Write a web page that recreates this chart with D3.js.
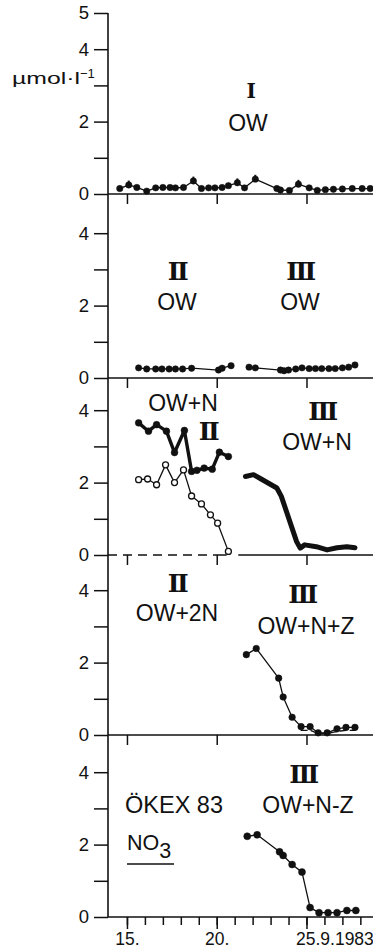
<!DOCTYPE html>
<html>
<head>
<meta charset="utf-8">
<script src="https://cdn.jsdelivr.net/npm/d3@7"></script>
<style>
  body { margin: 0; background: #fff; }
  svg { display: block; }
  text { font-family: "Liberation Sans", Arial, sans-serif; fill: #111; }
  .roman { font-family: "DejaVu Serif", "Liberation Serif", serif; font-weight: bold; }
</style>
</head>
<body>
<svg id="chart" width="373" height="952"></svg>
<script>
// NO3 in umol/l, September 1983 (day of month)

// panel I, OW
var p1Days = [14.6, 15.1, 15.55, 16.1, 16.6, 17.0, 17.4, 17.7, 18.15, 18.7, 19.15, 19.55, 19.9, 20.3, 20.65,
              21.15, 21.55, 22.15, 23.35, 23.55, 24.05, 24.55, 25.15, 25.6, 26.05, 26.5, 27.0, 27.55, 28.1, 28.55];
var p1Vals = [0.15, 0.25, 0.18, 0.08, 0.17, 0.18, 0.18, 0.17, 0.18, 0.36, 0.15, 0.17, 0.17, 0.18, 0.23,
              0.31, 0.17, 0.41, 0.15, 0.11, 0.10, 0.27, 0.17, 0.10, 0.12, 0.13, 0.14, 0.15, 0.15, 0.15];
var p1ErrDays = [15.1, 18.7, 21.15, 22.15, 24.55];

// panel II / III, OW
var p2aDays = [15.65, 16.1, 16.6, 16.95, 17.35, 17.7, 18.1, 18.6, 20.1, 20.3, 20.8];
var p2aVals = [0.28, 0.25, 0.25, 0.25, 0.25, 0.25, 0.25, 0.27, 0.22, 0.27, 0.34];
var p2bDays = [21.8, 22.15, 23.55, 23.75, 24.0, 24.4, 24.75, 25.15, 25.5, 25.85, 26.25, 26.6, 27.0, 27.35, 27.7];
var p2bVals = [0.30, 0.28, 0.22, 0.20, 0.22, 0.25, 0.28, 0.26, 0.26, 0.26, 0.26, 0.26, 0.28, 0.30, 0.36];

// panel II / III, OW+N
var p3aDays = [15.65, 16.2, 16.65, 17.2, 17.65, 18.2, 18.6, 18.9, 19.3, 19.75, 20.15, 20.65];
var p3aVals = [3.65, 3.42, 3.60, 3.42, 2.83, 3.44, 2.31, 2.34, 2.40, 2.37, 2.84, 2.72];
var p3oDays = [15.65, 16.15, 16.65, 17.15, 17.65, 18.15, 18.6, 19.15, 19.65, 20.05, 20.65];
var p3oVals = [2.08, 2.10, 1.94, 2.49, 2.00, 2.35, 1.63, 1.41, 1.11, 0.88, 0.10];
var p3bDays = [21.6, 22.05, 22.4, 23.35, 23.6, 24.45, 24.65, 24.9, 25.55, 26.15, 26.7, 27.25, 27.7];
var p3bVals = [2.17, 2.22, 2.12, 1.85, 1.62, 0.37, 0.19, 0.28, 0.23, 0.14, 0.20, 0.23, 0.20];

// panel III, OW+N+Z
var p4Days = [21.65, 22.2, 23.45, 23.7, 24.2, 24.7, 25.2, 25.65, 26.15, 26.7, 27.2, 27.7];
var p4Vals = [2.22, 2.39, 1.57, 1.05, 0.49, 0.23, 0.23, 0.06, 0.06, 0.17, 0.21, 0.21];
var p4dDays = [24.7, 25.2, 25.65, 26.15, 26.7, 27.2, 27.7];
var p4dVals = [0.13, 0.13, 0.04, 0.04, 0.10, 0.13, 0.13];

// panel III, OW+N-Z
var p5Days = [21.7, 22.25, 23.5, 23.7, 24.2, 24.75, 25.2, 25.7, 26.2, 26.7, 27.25, 27.75];
var p5Vals = [2.23, 2.27, 1.80, 1.70, 1.45, 1.24, 0.26, 0.12, 0.12, 0.12, 0.18, 0.18];

var dayMajor = [15, 20, 25];
var dayMinor = d3.range(15, 29);
var dayLabels = ["15.", "20.", "25.9.1983"];

var svg = d3.select("#chart");
var axisX = 108;
var unit = 36.2;
var baselines = [194, 378, 555, 735, 917];

var x = d3.scaleLinear().domain([14, 29]).range([109, 378.3]);
var ys = baselines.map(function (b) {
    return d3.scaleLinear().domain([0, 5]).range([b, b - 5 * unit]);
});

// continuous y axis line
svg.append("line")
    .attr("x1", axisX).attr("x2", axisX)
    .attr("y1", ys[0](5)).attr("y2", baselines[4])
    .attr("stroke", "#111").attr("stroke-width", 1.6);

// y ticks per panel
ys.forEach(function (y, i) {
    var vals = i === 0 ? [0, 1, 2, 3, 4, 5] : [0, 1, 2, 3, 4];
    var g = svg.append("g")
        .attr("transform", "translate(" + axisX + ",0)")
        .call(d3.axisLeft(y).tickValues(vals).tickSize(14).tickPadding(5)
              .tickFormat(function (d) { return (d % 2 === 0 || d === 5) ? d : ""; }));
    g.select(".domain").remove();
    g.selectAll(".tick line").attr("stroke", "#111").attr("stroke-width", 1.5);
    g.selectAll(".tick text").attr("font-size", 18.5).attr("font-family", "Liberation Sans, Arial, sans-serif")
        .attr("fill", "#111");
});

// x baselines
[0, 1, 3, 4].forEach(function (i) {
    svg.append("line")
        .attr("x1", axisX).attr("x2", 373)
        .attr("y1", baselines[i]).attr("y2", baselines[i])
        .attr("stroke", "#111").attr("stroke-width", 1.6);
});
// panel 3 baseline: dashed under II, solid under III
svg.append("line")
    .attr("x1", axisX).attr("x2", x(19.9))
    .attr("y1", baselines[2]).attr("y2", baselines[2])
    .attr("stroke", "#111").attr("stroke-width", 1.5).attr("stroke-dasharray", "9,6");
svg.append("line")
    .attr("x1", x(19.9)).attr("x2", x(20.55))
    .attr("y1", baselines[2]).attr("y2", baselines[2])
    .attr("stroke", "#111").attr("stroke-width", 1.5);
svg.append("line")
    .attr("x1", x(21.2)).attr("x2", 373)
    .attr("y1", baselines[2]).attr("y2", baselines[2])
    .attr("stroke", "#111").attr("stroke-width", 1.6);

// x ticks
[0, 1, 2, 3].forEach(function (i) {
    var g = svg.append("g")
        .attr("transform", "translate(0," + baselines[i] + ")")
        .call(d3.axisBottom(x).tickValues(dayMajor).tickSize(10).tickFormat(""));
    g.select(".domain").remove();
    g.selectAll(".tick line").attr("stroke", "#111").attr("stroke-width", 1.5);
});
var gMinor = svg.append("g")
    .attr("transform", "translate(0," + baselines[4] + ")")
    .call(d3.axisBottom(x).tickValues(dayMinor).tickSize(8).tickFormat(""));
gMinor.select(".domain").remove();
gMinor.selectAll(".tick line").attr("stroke", "#111").attr("stroke-width", 1.5);
var gMajor = svg.append("g")
    .attr("transform", "translate(0," + baselines[4] + ")")
    .call(d3.axisBottom(x).tickValues(dayMajor).tickSize(12).tickPadding(4)
          .tickFormat(function (d, i) { return dayLabels[i]; }));
gMajor.select(".domain").remove();
gMajor.selectAll(".tick line").attr("stroke", "#111").attr("stroke-width", 1.5);
gMajor.selectAll(".tick text").attr("font-size", 17.5).attr("fill", "#111")
    .attr("font-family", "Liberation Sans, Arial, sans-serif");
gMajor.selectAll(".tick text").filter(function (d) { return d === 25; })
    .attr("text-anchor", "start").attr("x", -11);

// series helpers
function series(days, vals, y, opt) {
    var pts = days.map(function (d, i) { return [x(d), y(vals[i])]; });
    var line = d3.line().curve(d3.curveLinear);
    svg.append("path")
        .attr("d", line(pts))
        .attr("fill", "none")
        .attr("stroke", "#111")
        .attr("stroke-width", opt.width || 1.3)
        .attr("stroke-linejoin", "round")
        .attr("stroke-linecap", "round")
        .attr("stroke-dasharray", opt.dash || null);
    if (opt.r) {
        svg.append("g").selectAll("circle").data(pts).join("circle")
            .attr("cx", function (p) { return p[0]; })
            .attr("cy", function (p) { return p[1]; })
            .attr("r", opt.r)
            .attr("fill", opt.open ? "#fff" : "#111")
            .attr("stroke", "#111")
            .attr("stroke-width", opt.open ? 1.3 : 0.5);
    }
}

// panel 1
series(p1Days, p1Vals, ys[0], {r: 3.2});
svg.append("g").selectAll("line").data(p1ErrDays).join("line")
    .attr("x1", function (d) { return x(d); }).attr("x2", function (d) { return x(d); })
    .attr("y1", function (d) { return ys[0](p1Vals[p1Days.indexOf(d)]); })
    .attr("y2", function (d) { return ys[0](p1Vals[p1Days.indexOf(d)] + 0.12); })
    .attr("stroke", "#111").attr("stroke-width", 2);

// panel 2
series(p2aDays, p2aVals, ys[1], {r: 3.2});
series(p2bDays, p2bVals, ys[1], {r: 3.2});

// panel 3
series(p3aDays, p3aVals, ys[2], {r: 3.4, width: 3.4});
series(p3oDays, p3oVals, ys[2], {r: 3, open: true});
series(p3bDays, p3bVals, ys[2], {width: 5});

// panel 4
series(p4dDays, p4dVals, ys[3], {dash: "6,4", width: 1.3});
series(p4Days, p4Vals, ys[3], {r: 3.3});

// panel 5
series(p5Days, p5Vals, ys[4], {r: 3.5});

// labels
function label(txt, cx, by, size, cls, anchor) {
    return svg.append("text")
        .attr("x", cx).attr("y", by)
        .attr("text-anchor", anchor || "middle")
        .attr("font-size", size)
        .attr("class", cls || null)
        .attr("letter-spacing", cls === "roman" ? -2.5 : null)
        .text(txt);
}

svg.append("text").attr("x", 12).attr("y", 84).attr("font-size", 16.5)
    .attr("textLength", 68).attr("lengthAdjust", "spacingAndGlyphs").text("\u00b5mol\u00b7l");
svg.append("text").attr("x", 80).attr("y", 78).attr("font-size", 13).text("\u22121");

label("I", 250, 98, 20, "roman");
label("OW", 248, 131, 23);

label("II", 177, 280, 25, "roman");
label("OW", 177, 310, 23);
label("III", 300, 280, 25, "roman");
label("OW", 300, 310, 23);

label("OW+N", 183, 411, 23);
label("II", 208, 440, 25, "roman");
label("III", 322, 420, 25, "roman");
label("OW+N", 317, 450, 23);

label("II", 177, 592, 25, "roman");
label("OW+2N", 177, 621, 23);
label("III", 302, 603, 25, "roman");
label("OW+N+Z", 306, 634, 23);

label("III", 303, 783, 25, "roman");
label("\u00d6KEX 83", 125, 813, 23.5, null, "start");
label("OW+N-Z", 308, 813, 23);
var no3 = svg.append("text").attr("x", 127).attr("y", 850).attr("font-size", 21.5);
no3.append("tspan").text("NO");
no3.append("tspan").attr("dy", 8).text("3");
svg.append("line").attr("x1", 127).attr("x2", 174).attr("y1", 864).attr("y2", 864)
    .attr("stroke", "#111").attr("stroke-width", 1.6);
</script>
</body>
</html>
